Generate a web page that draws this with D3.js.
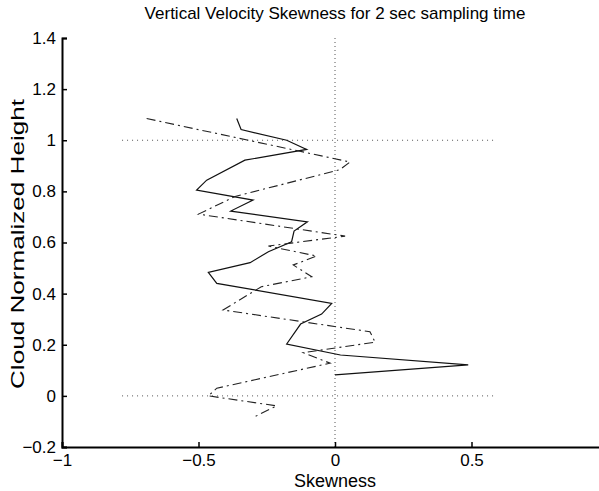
<!DOCTYPE html>
<html>
<head>
<meta charset="utf-8">
<script src="https://d3js.org/d3.v7.min.js"></script>
<style>
  body { margin: 0; background: #fff; }
  svg { font-family: "Liberation Sans", Arial, sans-serif; }
</style>
</head>
<body>
<svg id="chart" width="599" height="491"></svg>
<script>
// skewness (x) vs normalized height (y)
var solidSkew = [-0.36, -0.344, -0.177, -0.104, -0.33, -0.47, -0.507, -0.30, -0.382, -0.101, -0.15, -0.159, -0.244, -0.311, -0.464, -0.433, -0.012, -0.049, -0.126, -0.177, 0.02, 0.488, 0.0];
var solidHeight = [1.085, 1.042, 1.0, 0.964, 0.922, 0.844, 0.805, 0.766, 0.723, 0.681, 0.645, 0.603, 0.564, 0.521, 0.483, 0.44, 0.362, 0.32, 0.281, 0.203, 0.16, 0.121, 0.082];

var dashSkew = [-0.69, 0.055, 0.018, -0.366, -0.50, 0.037, -0.244, -0.067, -0.153, -0.085, -0.27, -0.41, 0.128, 0.147, -0.116, -0.018, -0.433, -0.464, -0.214, -0.293];
var dashHeight = [1.085, 0.915, 0.885, 0.78, 0.711, 0.625, 0.586, 0.547, 0.512, 0.466, 0.427, 0.336, 0.251, 0.21, 0.169, 0.128, 0.03, 0.0, -0.039, -0.081];

var xTicks = [-1, -0.5, 0, 0.5, 1];
var yTicks = [-0.2, 0, 0.2, 0.4, 0.6, 0.8, 1, 1.2, 1.4];
var refHeights = [0, 1];
var refSkewRange = [-0.78, 0.58];

var fontSize = '17px';

var svg = d3.select('#chart');
var x = d3.scaleLinear().domain([-1, 1]).range([62, 608]);
var y = d3.scaleLinear().domain([-0.2, 1.4]).range([447, 38]);

// dotted reference lines
svg.append('line')
  .attr('x1', x(0)).attr('x2', x(0))
  .attr('y1', y(1.4)).attr('y2', y(-0.2))
  .attr('stroke', '#555').attr('stroke-width', 1)
  .attr('stroke-dasharray', '1,3');

refHeights.forEach(function(h){
  svg.append('line')
    .attr('x1', x(refSkewRange[0])).attr('x2', x(refSkewRange[1]))
    .attr('y1', y(h)).attr('y2', y(h))
    .attr('stroke', '#555').attr('stroke-width', 1)
    .attr('stroke-dasharray', '1,4');
});

var line = d3.line()
  .x(function(d){ return x(d[0]); })
  .y(function(d){ return y(d[1]); });

svg.append('path')
  .datum(solidSkew.map(function(v, i){ return [v, solidHeight[i]]; }))
  .attr('d', line)
  .attr('fill', 'none')
  .attr('stroke', '#111')
  .attr('stroke-width', 1.2);

svg.append('path')
  .datum(dashSkew.map(function(v, i){ return [v, dashHeight[i]]; }))
  .attr('d', line)
  .attr('fill', 'none')
  .attr('stroke', '#222')
  .attr('stroke-width', 1.1)
  .attr('stroke-dasharray', '9,4,2,4');

// axes, ticks inward like matlab
var minus = function(d){ return d3.format('')(d).replace('-', '\u2212'); };

var xAxis = svg.append('g')
  .attr('transform', 'translate(0,' + y(-0.2) + ')')
  .call(d3.axisBottom(x).tickValues(xTicks).tickSize(-5).tickPadding(7).tickFormat(minus));

var yAxis = svg.append('g')
  .attr('transform', 'translate(' + x(-1) + ',0)')
  .call(d3.axisLeft(y).tickValues(yTicks).tickSize(-5).tickPadding(6).tickFormat(minus));

[xAxis, yAxis].forEach(function(g){
  g.select('.domain').attr('stroke', '#000').attr('stroke-width', 2);
  g.selectAll('.tick line').attr('stroke', '#000').attr('stroke-width', 1.5);
  g.selectAll('.tick text').attr('fill', '#000')
    .style('font-size', fontSize).style('font-family', '"Liberation Sans", Arial, sans-serif');
});

svg.append('text')
  .attr('x', 335).attr('y', 19)
  .attr('text-anchor', 'middle')
  .style('font-size', fontSize)
  .text('Vertical Velocity Skewness for 2 sec sampling time');

svg.append('text')
  .attr('x', 335).attr('y', 487)
  .attr('text-anchor', 'middle')
  .style('font-size', '18px')
  .text('Skewness');

// the rotated label in the original is stretched along its length
svg.append('text')
  .attr('transform', 'translate(24,244) rotate(-90)')
  .attr('text-anchor', 'middle')
  .attr('textLength', 290)
  .attr('lengthAdjust', 'spacingAndGlyphs')
  .style('font-size', '18px')
  .text('Cloud Normalized Height');
</script>
</body>
</html>
